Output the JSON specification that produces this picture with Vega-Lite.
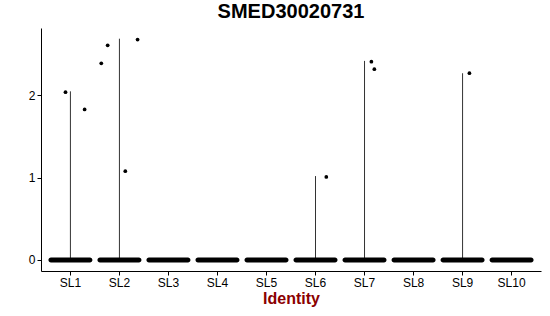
{
  "$schema": "https://vega.github.io/schema/vega-lite/v6.json",
  "width": 500,
  "height": 243,
  "autosize": {"type": "none"},
  "padding": {"left": 41, "top": 28, "right": 9, "bottom": 45},
  "background": "white",
  "title": {"text": "SMED30020731", "fontSize": 20, "fontWeight": "bold", "font": "Liberation Sans", "color": "black", "anchor": "middle", "offset": 6},
  "config": {"view": {"stroke": null}, "axis": {"grid": false, "domainColor": "black", "tickColor": "black", "labelColor": "black", "labelFont": "Liberation Sans", "labelFontSize": 12, "titleFont": "Liberation Sans"}},
  "datasets": {
    "zeros": [
      {"identity": "SL1", "value": 0}, {"identity": "SL2", "value": 0}, {"identity": "SL3", "value": 0},
      {"identity": "SL4", "value": 0}, {"identity": "SL5", "value": 0}, {"identity": "SL6", "value": 0},
      {"identity": "SL7", "value": 0}, {"identity": "SL8", "value": 0}, {"identity": "SL9", "value": 0},
      {"identity": "SL10", "value": 0}
    ],
    "violin": [
      {"identity": "SL1", "vmin": 0, "vmax": 2.05},
      {"identity": "SL2", "vmin": 0, "vmax": 2.69},
      {"identity": "SL6", "vmin": 0, "vmax": 1.02},
      {"identity": "SL7", "vmin": 0, "vmax": 2.42},
      {"identity": "SL9", "vmin": 0, "vmax": 2.27}
    ],
    "points": [
      {"identity": "SL1", "value": 2.04, "jitter": -0.10},
      {"identity": "SL1", "value": 1.83, "jitter": 0.29},
      {"identity": "SL2", "value": 2.39, "jitter": -0.37},
      {"identity": "SL2", "value": 2.61, "jitter": -0.24},
      {"identity": "SL2", "value": 1.08, "jitter": 0.12},
      {"identity": "SL2", "value": 2.68, "jitter": 0.37},
      {"identity": "SL6", "value": 1.01, "jitter": 0.22},
      {"identity": "SL7", "value": 2.41, "jitter": 0.14},
      {"identity": "SL7", "value": 2.32, "jitter": 0.20},
      {"identity": "SL9", "value": 2.27, "jitter": 0.14}
    ]
  },
  "layer": [
    {
      "data": {"name": "violin"},
      "mark": {"type": "rule", "color": "#333333", "strokeWidth": 1},
      "encoding": {
        "x": {"field": "identity", "type": "nominal"},
        "y": {"field": "vmin", "type": "quantitative"},
        "y2": {"field": "vmax"}
      }
    },
    {
      "data": {"name": "zeros"},
      "mark": {"type": "tick", "color": "black", "size": 44, "thickness": 5, "cornerRadius": 2.5, "opacity": 1},
      "encoding": {
        "x": {"field": "identity", "type": "nominal"},
        "y": {"field": "value", "type": "quantitative"}
      }
    },
    {
      "data": {"name": "points"},
      "mark": {"type": "point", "filled": true, "color": "black", "size": 14, "opacity": 1},
      "encoding": {
        "x": {"field": "identity", "type": "nominal"},
        "xOffset": {"field": "jitter", "type": "quantitative", "scale": {"domain": [-0.5, 0.5]}},
        "y": {"field": "value", "type": "quantitative"}
      }
    }
  ],
  "resolve": {"scale": {"x": "shared", "y": "shared"}},
  "encoding": {
    "x": {
      "field": "identity", "type": "nominal",
      "sort": ["SL1", "SL2", "SL3", "SL4", "SL5", "SL6", "SL7", "SL8", "SL9", "SL10"],
      "scale": {"domain": ["SL1", "SL2", "SL3", "SL4", "SL5", "SL6", "SL7", "SL8", "SL9", "SL10"], "paddingInner": 0, "paddingOuter": 0.1},
      "axis": {"title": "Identity", "titleColor": "#8b0000", "titleFontSize": 16, "titleFontWeight": "bold", "titlePadding": 2, "labelAngle": 0, "tickSize": 4, "labelPadding": 2, "domainWidth": 1}
    },
    "y": {
      "type": "quantitative",
      "scale": {"domain": [-0.134, 2.82], "nice": false, "zero": false},
      "axis": {"title": null, "values": [0, 1, 2], "tickSize": 4, "labelPadding": 2, "domainWidth": 1}
    }
  }
}
